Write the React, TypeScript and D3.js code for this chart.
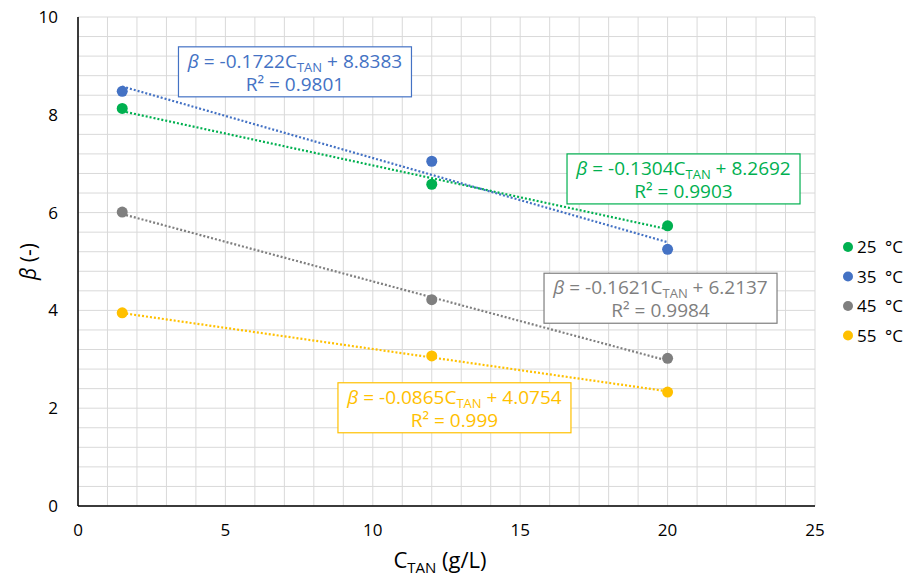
import React from "react";
import * as d3 from "d3";

const xValues = [1.5, 12, 20];
const seriesNames = ["25\u2002°C", "35\u2002°C", "45\u2002°C", "55\u2002°C"];
const seriesColors = ["#00B050", "#4472C4", "#7F7F7F", "#FFC000"];
const beta25 = [8.13, 6.58, 5.73];
const beta35 = [8.48, 7.05, 5.25];
const beta45 = [6.01, 4.22, 3.02];
const beta55 = [3.95, 3.07, 2.33];
const slopes = [-0.1304, -0.1722, -0.1621, -0.0865];
const intercepts = [8.2692, 8.8383, 6.2137, 4.0754];
const r2Labels = ["0.9903", "0.9801", "0.9984", "0.999"];
const slopeLabels = ["-0.1304", "-0.1722", "-0.1621", "-0.0865"];
const interceptLabels = ["8.2692", "8.8383", "6.2137", "4.0754"];
const xTicks = [0, 5, 10, 15, 20, 25];
const yTicks = [0, 2, 4, 6, 8, 10];
// annotation anchor positions in data coords (center x, top y)
const annX = [20.54, 7.36, 19.76, 12.77];
const annY = [7.2, 9.39, 4.76, 2.52];

const W = 917, H = 576;
const margin = { left: 78, right: 102, top: 17, bottom: 70 };
const FONT = "'Open Sans', 'DejaVu Sans', sans-serif";

export default function App() {
  const x = d3.scaleLinear().domain([0, 25]).range([margin.left, W - margin.right]);
  const y = d3.scaleLinear().domain([0, 10]).range([H - margin.bottom, margin.top]);
  const series = [beta25, beta35, beta45, beta55];
  const vGrid = d3.range(0, 26, 1);
  const hGrid = d3.range(0, 10.01, 0.4);
  const line = d3.line<[number, number]>().x(d => x(d[0])).y(d => y(d[1]));

  return (
    <svg width={W} height={H} style={{ position: "absolute", left: 0, top: 0, background: "#fff" }} fontFamily={FONT}>
      <rect x={0} y={0} width={W} height={H} fill="#fff" />
      {vGrid.map(v => (
        <line key={"v" + v} x1={x(v)} x2={x(v)} y1={y(0)} y2={y(10)} stroke="#d9d9d9" strokeWidth={1} />
      ))}
      {hGrid.map(v => (
        <line key={"h" + v} x1={x(0)} x2={x(25)} y1={y(v)} y2={y(v)} stroke="#d9d9d9" strokeWidth={1} />
      ))}
      <line x1={x(0)} x2={x(0)} y1={y(0)} y2={y(10)} stroke="#000" strokeWidth={1.5} />
      <line x1={x(0)} x2={x(25)} y1={y(0)} y2={y(0)} stroke="#000" strokeWidth={1.5} />
      {xTicks.map(t => (
        <text key={"xt" + t} x={x(t)} y={y(0) + 30} textAnchor="middle" fontSize={17} fill="#000">{t}</text>
      ))}
      {yTicks.map(t => (
        <text key={"yt" + t} x={x(0) - 20} y={y(t) + 6} textAnchor="end" fontSize={17} fill="#000">{t}</text>
      ))}
      <text x={440} y={568} textAnchor="middle" fontSize={22} fill="#000">
        C<tspan fontSize={15} dy={5}>TAN</tspan><tspan dy={-5}> (g/L)</tspan>
      </text>
      <text transform={`translate(36,${(y(0) + y(10)) / 2}) rotate(-90)`} textAnchor="middle" fontSize={21} fill="#000">
        <tspan fontStyle="italic">β</tspan> (-)
      </text>
      {series.map((s, i) => {
        const pts: [number, number][] = [
          [xValues[0], slopes[i] * xValues[0] + intercepts[i]],
          [xValues[xValues.length - 1], slopes[i] * xValues[xValues.length - 1] + intercepts[i]],
        ];
        return (
          <path key={"t" + i} d={line(pts) || ""} stroke={seriesColors[i]} strokeWidth={2.2} strokeDasharray="2 2" fill="none" />
        );
      })}
      {series.map((_, i) => {
        const cx = x(annX[i]);
        const top = y(annY[i]);
        const bw = 233, bh = 50;
        return (
          <g key={"a" + i}>
            <rect x={cx - bw / 2} y={top} width={bw} height={bh} fill="#fff" stroke={seriesColors[i]} strokeWidth={1.2} />
            <text x={cx} y={top + 21} textAnchor="middle" fontSize={19} fill={seriesColors[i]}>
              <tspan fontStyle="italic">β</tspan> = {slopeLabels[i]}C<tspan fontSize={13} dy={4}>TAN</tspan><tspan dy={-4}> + {interceptLabels[i]}</tspan>
            </text>
            <text x={cx} y={top + 44} textAnchor="middle" fontSize={19} fill={seriesColors[i]}>
              R² = {r2Labels[i]}
            </text>
          </g>
        );
      })}
      {series.map((s, i) => (
        <g key={"p" + i}>
          {s.map((v, j) => (
            <circle key={j} cx={x(xValues[j])} cy={y(v)} r={5.5} fill={seriesColors[i]} />
          ))}
        </g>
      ))}
      {seriesNames.map((n, i) => (
        <g key={"l" + i}>
          <circle cx={848} cy={247 + i * 29.5} r={5} fill={seriesColors[i]} />
          <text x={857} y={247 + i * 29.5 + 6} fontSize={17} fill="#000">{n}</text>
        </g>
      ))}
    </svg>
  );
}
